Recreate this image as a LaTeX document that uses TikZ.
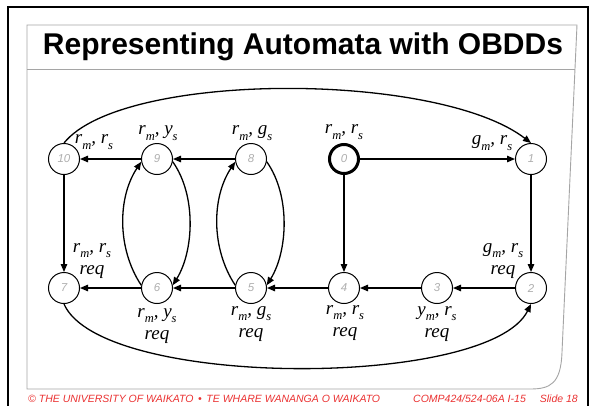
\documentclass[tikz,border=0pt]{standalone}
\usepackage{fontspec}
\setmainfont{Liberation Serif}
\setsansfont{Liberation Sans}
\usetikzlibrary{arrows.meta}
\definecolor{framegray}{RGB}{165,165,165}
\definecolor{numgray}{RGB}{175,175,175}
\definecolor{footred}{RGB}{235,50,50}
\newcommand\sbx[2]{#1\raisebox{-0.28em}{\fontsize{12.5}{12.5}\selectfont #2}}
\begin{document}
\begin{tikzpicture}[x=1pt,y=-1pt,
  st/.style={circle,draw,line width=1pt,minimum size=31pt,inner sep=0pt,
    font=\sffamily\itshape\fontsize{11.5}{11.5}\selectfont,text=numgray},
  ststart/.style={st,line width=3pt,minimum size=29pt},
  lbl/.style={font=\itshape\fontsize{19}{22}\selectfont,align=center,inner sep=0pt},
  ar/.style={line width=1.3pt,-{Triangle[length=8pt,width=6.5pt]}},
  foot/.style={font=\sffamily\itshape\fontsize{10.5}{10.5}\selectfont,text=footred,inner sep=0pt},
]
\useasboundingbox (0,0) rectangle (592,405);
\fill[white] (0,0) rectangle (592,405);
% frames
\draw[line width=2pt] (8,410) -- (8,7) -- (588,7) -- (588,410);
\draw[framegray, line width=0.9pt] (27,389) -- (27,25) -- (577,25) -- (562,352)
  .. controls (561,384) and (550,389) .. (530,389) -- cycle;
\draw[framegray, line width=0.9pt] (27,69) -- (575,69);
\node[font=\sffamily\bfseries\fontsize{30}{30}\selectfont] (title) at (303,47) {Representing Automata with OBDDs};
\node[foot,anchor=west] (f1) at (28,399)
  {© THE UNIVERSITY OF WAIKATO \,•\, TE WHARE WANANGA O WAIKATO};
\node[foot,anchor=east] (f2) at (578,399)
  {COMP424/524-06A I-15\hspace{14pt}Slide 18};
% states
\node[st] (n10) at (64,159) {10};
\node[st] (n9) at (157,159) {9};
\node[st] (n8) at (251,159) {8};
\node[ststart] (n0) at (344,159) {0};
\node[st] (n1) at (531,159) {1};
\node[st] (n7) at (64,288) {7};
\node[st] (n6) at (157,288) {6};
\node[st] (n5) at (251,288) {5};
\node[st] (n4) at (344,288) {4};
\node[st] (n3) at (437,288) {3};
\node[st] (n2) at (531,288) {2};
% labels
\node[lbl] (l10) at (94,142) {\sbx{r}{m}, \sbx{r}{s}};
\node[lbl] (l9) at (158,133) {\sbx{r}{m}, \sbx{y}{s}};
\node[lbl] (l8) at (252,133) {\sbx{r}{m}, \sbx{g}{s}};
\node[lbl] (l0) at (344,132) {\sbx{r}{m}, \sbx{r}{s}};
\node[lbl] (l1) at (492,143) {\sbx{g}{m}, \sbx{r}{s}};
\node[lbl] (l7) at (92,261) {\sbx{r}{m}, \sbx{r}{s}\\req};
\node[lbl] (l6) at (157,326) {\sbx{r}{m}, \sbx{y}{s}\\req};
\node[lbl] (l5) at (251,324) {\sbx{r}{m}, \sbx{g}{s}\\req};
\node[lbl] (l4) at (345,323) {\sbx{r}{m}, \sbx{r}{s}\\req};
\node[lbl] (l3) at (437,324) {\sbx{y}{m}, \sbx{r}{s}\\req};
\node[lbl] (l2) at (503,261) {\sbx{g}{m}, \sbx{r}{s}\\req};
% edges
\draw[ar] (n0) -- (n1);
\draw[ar] (n0) -- (n4);
\draw[ar] (n1) -- (n2);
\draw[ar] (n2) -- (n3);
\draw[ar] (n3) -- (n4);
\draw[ar] (n4) -- (n5);
\draw[ar] (n5) -- (n6);
\draw[ar] (n6) -- (n7);
\draw[ar] (n8) -- (n9);
\draw[ar] (n9) -- (n10);
\draw[ar] (n10) -- (n7);
\draw[ar] (n10.north) .. controls +(58,-72) and +(-94,-72) .. (n1.north);
\draw[ar] (n7.south) .. controls +(37,85) and +(-42,85) .. (n2.south);
\draw[ar] (n6.170) .. controls +(-24,-36) and +(-24,36) .. (n9.190);
\draw[ar] (n9.-10) .. controls +(24,34) and +(21,-34) .. (n6.10);
\draw[ar] (n5.170) .. controls +(-24,-36) and +(-24,36) .. (n8.190);
\draw[ar] (n8.-10) .. controls +(24,34) and +(21,-34) .. (n5.10);
\end{tikzpicture}
\end{document}
